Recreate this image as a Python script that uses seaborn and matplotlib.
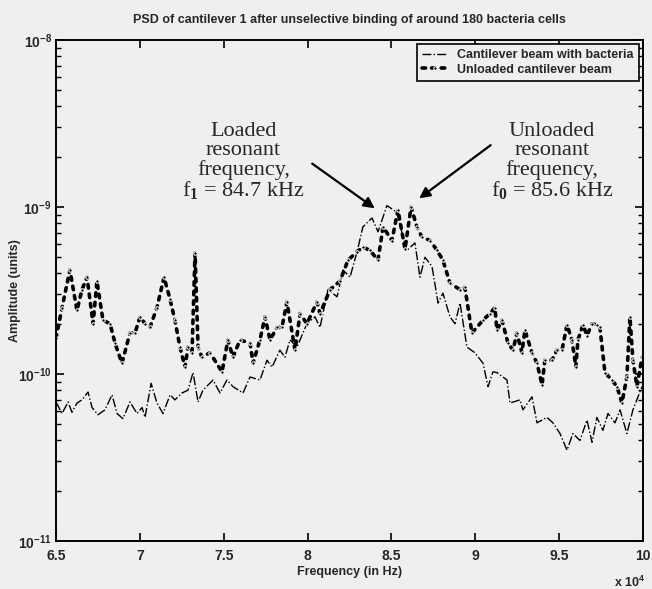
import matplotlib.pyplot as plt
import pandas as pd
import seaborn as sns
from matplotlib.ticker import LogLocator, NullFormatter

# ----------------------------
# Data
# ----------------------------
unloaded_freq = [65000, 65360, 65830, 66250, 66550, 66850, 67210, 67440, 67800, 68220,
                 68520, 68930, 69410, 69710, 70010, 70310, 70600, 71020, 71440, 71800,
                 72090, 72390, 72690, 72870, 73110, 73290, 73470, 73700, 74180, 74900,
                 75250, 75550, 75970, 76570, 76750, 77160, 77460, 77760, 78180, 78470,
                 78770, 79250, 79550, 79960, 80560, 80740, 81340, 81930, 82410, 82950,
                 83300, 83720, 84200, 84500, 85030, 85390, 85810, 86170, 86520, 86820,
                 87300, 87720, 88070, 88490, 89090, 89380, 89800, 90460, 90870, 91170,
                 91290, 91590, 91950, 92250, 92480, 92780, 92960, 93380, 93680, 93980,
                 94150, 94570, 94870, 95170, 95470, 95760, 96000, 96120, 96420, 96660,
                 96960, 97250, 97430, 97730, 98150, 98450, 98740, 99040, 99220, 99400,
                 99640, 99940]
unloaded_amp = [1.64e-10, 2.5e-10, 4.2e-10, 2.4e-10, 3.2e-10, 3.8e-10, 2.0e-10, 3.6e-10, 2.1e-10, 2.0e-10,
                1.53e-10, 1.16e-10, 1.76e-10, 1.76e-10, 2.2e-10, 2.0e-10, 1.9e-10, 2.5e-10, 3.8e-10, 2.8e-10,
                2.1e-10, 1.45e-10, 1.1e-10, 1.45e-10, 1.34e-10, 5.3e-10, 1.45e-10, 1.26e-10, 1.34e-10, 1.03e-10,
                1.6e-10, 1.26e-10, 1.6e-10, 1.53e-10, 1.16e-10, 1.6e-10, 2.2e-10, 1.6e-10, 1.9e-10, 1.9e-10,
                2.7e-10, 1.39e-10, 2.3e-10, 2.0e-10, 2.7e-10, 2.3e-10, 3.2e-10, 3.6e-10, 4.8e-10, 5.4e-10,
                5.75e-10, 5.5e-10, 4.8e-10, 7.6e-10, 6.3e-10, 9.6e-10, 5.6e-10, 1.0e-9, 7.6e-10, 6.6e-10,
                6.3e-10, 5.5e-10, 4.8e-10, 3.5e-10, 3.2e-10, 3.3e-10, 1.76e-10, 2.1e-10, 2.3e-10, 2.5e-10,
                1.83e-10, 2.1e-10, 1.53e-10, 1.39e-10, 1.76e-10, 1.34e-10, 1.83e-10, 1.34e-10, 1.16e-10, 8.6e-11,
                1.21e-10, 1.21e-10, 1.39e-10, 1.39e-10, 1.97e-10, 1.6e-10, 1.1e-10, 1.6e-10, 1.97e-10, 1.7e-10,
                2.0e-10, 1.97e-10, 1.9e-10, 1.02e-10, 9.2e-11, 8.4e-11, 6.7e-11, 9.6e-11, 2.2e-10, 1.21e-10,
                8.4e-11, 1.26e-10]

loaded_freq = [65000, 65360, 65720, 65950, 66250, 66550, 66910, 67150, 67500, 67920,
               68340, 68640, 68990, 69410, 69830, 70130, 70310, 70670, 71020, 71380,
               71800, 72090, 72510, 72870, 73170, 73470, 73760, 74360, 74780, 75190,
               75550, 76150, 76570, 77160, 77580, 77880, 78350, 78650, 78950, 79370,
               79960, 80440, 80740, 81220, 81760, 82110, 82530, 82950, 83300, 83840,
               84200, 84730, 85330, 85690, 85930, 86400, 86700, 87000, 87420, 87780,
               88070, 88490, 88790, 89090, 89500, 89980, 90460, 90760, 91050, 91290,
               91890, 92070, 92660, 92840, 93380, 93680, 94270, 94630, 95050, 95470,
               95820, 96240, 96660, 96960, 97250, 97610, 97910, 98330, 98630, 99040,
               99400, 99940]
loaded_amp = [6.8e-11, 5.8e-11, 6.8e-11, 5.9e-11, 6.7e-11, 7.0e-11, 7.8e-11, 6.3e-11, 5.7e-11, 6.1e-11,
              7.5e-11, 5.8e-11, 5.4e-11, 6.8e-11, 5.8e-11, 6.3e-11, 5.5e-11, 8.8e-11, 6.7e-11, 5.8e-11,
              7.5e-11, 7.0e-11, 7.7e-11, 8.0e-11, 1.02e-10, 6.8e-11, 8.0e-11, 9.2e-11, 7.7e-11, 9.2e-11,
              8.4e-11, 7.7e-11, 9.6e-11, 9.2e-11, 1.21e-10, 1.1e-10, 1.39e-10, 1.26e-10, 1.6e-10, 1.45e-10,
              2.0e-10, 2.2e-10, 1.9e-10, 3.2e-10, 2.9e-10, 4.2e-10, 3.8e-10, 5.4e-10, 7.6e-10, 8.6e-10,
              7.1e-10, 1.02e-9, 9.3e-10, 6.6e-10, 5.5e-10, 6.1e-10, 3.8e-10, 5.0e-10, 4.4e-10, 2.66e-10,
              3.05e-10, 2.2e-10, 2.0e-10, 2.66e-10, 1.45e-10, 1.34e-10, 1.16e-10, 8.4e-11, 1.03e-10, 1.02e-10,
              9.2e-11, 6.7e-11, 7.0e-11, 6.1e-11, 7.3e-11, 5.1e-11, 5.5e-11, 5.1e-11, 4.4e-11, 3.5e-11,
              4.4e-11, 4.0e-11, 5.3e-11, 3.9e-11, 5.5e-11, 4.6e-11, 5.8e-11, 5.1e-11, 6.1e-11, 4.4e-11,
              6.1e-11, 8.4e-11]

x_ticks = [65000, 70000, 75000, 80000, 85000, 90000, 95000, 100000]
x_tick_labels = ['6.5', '7', '7.5', '8', '8.5', '9', '9.5', '10']
y_ticks = [1e-11, 1e-10, 1e-9, 1e-8]
y_tick_labels = [r'$\mathbf{10^{-11}}$', r'$\mathbf{10^{-10}}$', r'$\mathbf{10^{-9}}$', r'$\mathbf{10^{-8}}$']

# ----------------------------
# Style
# ----------------------------
sns.set_theme(style='ticks')
plt.rcParams['font.family'] = ['Liberation Sans', 'DejaVu Sans']
plt.rcParams['font.weight'] = 'bold'
plt.rcParams['mathtext.fontset'] = 'custom'
plt.rcParams['mathtext.bf'] = 'Liberation Sans:bold'
plt.rcParams['mathtext.rm'] = 'Liberation Serif'
bg = '#efefef'

fig = plt.figure(figsize=(6.52, 5.89), dpi=100, facecolor=bg)
ax = fig.add_axes([0.0859, 0.0815, 0.9003, 0.8506])
ax.set_facecolor(bg)

df_loaded = pd.DataFrame({'freq': loaded_freq, 'amp': loaded_amp})
df_unloaded = pd.DataFrame({'freq': unloaded_freq, 'amp': unloaded_amp})

sns.lineplot(data=df_loaded, x='freq', y='amp', ax=ax, color='black', linewidth=1.0,
             linestyle='-.', estimator=None, label='Cantilever beam with bacteria')
sns.lineplot(data=df_unloaded, x='freq', y='amp', ax=ax, color='black', linewidth=2.6,
             linestyle=':', marker='.', markersize=5, estimator=None,
             label='Unloaded cantilever beam', dash_capstyle='round')

ax.set_yscale('log')
ax.set_xlim(65000, 100000)
ax.set_ylim(1e-11, 1e-8)
ax.set_xticks(x_ticks)
ax.set_xticklabels(x_tick_labels, fontsize=10, fontweight='bold')
ax.set_yticks(y_ticks)
ax.set_yticklabels(y_tick_labels, fontsize=10)
ax.yaxis.set_minor_locator(LogLocator(base=10, subs=range(2, 10)))
ax.yaxis.set_minor_formatter(NullFormatter())
ax.tick_params(which='both', direction='in', top=True, right=True, color='black')
ax.tick_params(which='major', length=6, width=1.2, pad=3)
ax.tick_params(axis='x', which='major', pad=6)
ax.tick_params(which='minor', length=3.5, width=1.0)
for sp in ax.spines.values():
    sp.set_linewidth(1.4)
    sp.set_color('black')

ax.set_xlabel('Frequency (in Hz)', fontsize=9, fontweight='bold', labelpad=2)
ax.set_ylabel('Amplitude (units)', fontsize=9, fontweight='bold', labelpad=-2)
ax.set_title('PSD of cantilever 1 after unselective binding of around 180 bacteria cells',
             fontsize=9, fontweight='bold', pad=12)
ax.text(1.004, -0.083, r'x 10$^{\mathbf{4}}$', transform=ax.transAxes, ha='right', va='center',
        fontsize=9, fontweight='bold')

leg = ax.legend(loc='upper right', fontsize=9, frameon=True, fancybox=False, framealpha=1,
                edgecolor='black', facecolor=bg, borderaxespad=0.35, handlelength=2.0,
                borderpad=0.4, labelspacing=0.2)
leg.get_frame().set_linewidth(1.2)
for t in leg.get_texts():
    t.set_fontweight('bold')

# annotations (serif, like the original figure)
serif = ['Liberation Serif', 'DejaVu Serif']
ax.text(0.319, 0.756, 'Loaded\nresonant\nfrequency,\nf$_{\\mathrm{1}}$ = 84.7 kHz', transform=ax.transAxes,
        ha='center', va='center', fontsize=16, family=serif, fontweight='normal', linespacing=1.0)
ax.text(0.845, 0.756, 'Unloaded\nresonant\nfrequency,\nf$_{\\mathrm{0}}$ = 85.6 kHz', transform=ax.transAxes,
        ha='center', va='center', fontsize=16, family=serif, fontweight='normal', linespacing=1.0)
arrow = dict(arrowstyle='-|>', color='black', lw=1.6, mutation_scale=16)
ax.annotate('', xy=(84140, 9.6e-10), xytext=(80140, 1.86e-9), arrowprops=arrow)
ax.annotate('', xy=(86520, 1.1e-9), xytext=(91050, 2.4e-9), arrowprops=arrow)

fig.savefig('out.png', dpi=100, facecolor=bg)
